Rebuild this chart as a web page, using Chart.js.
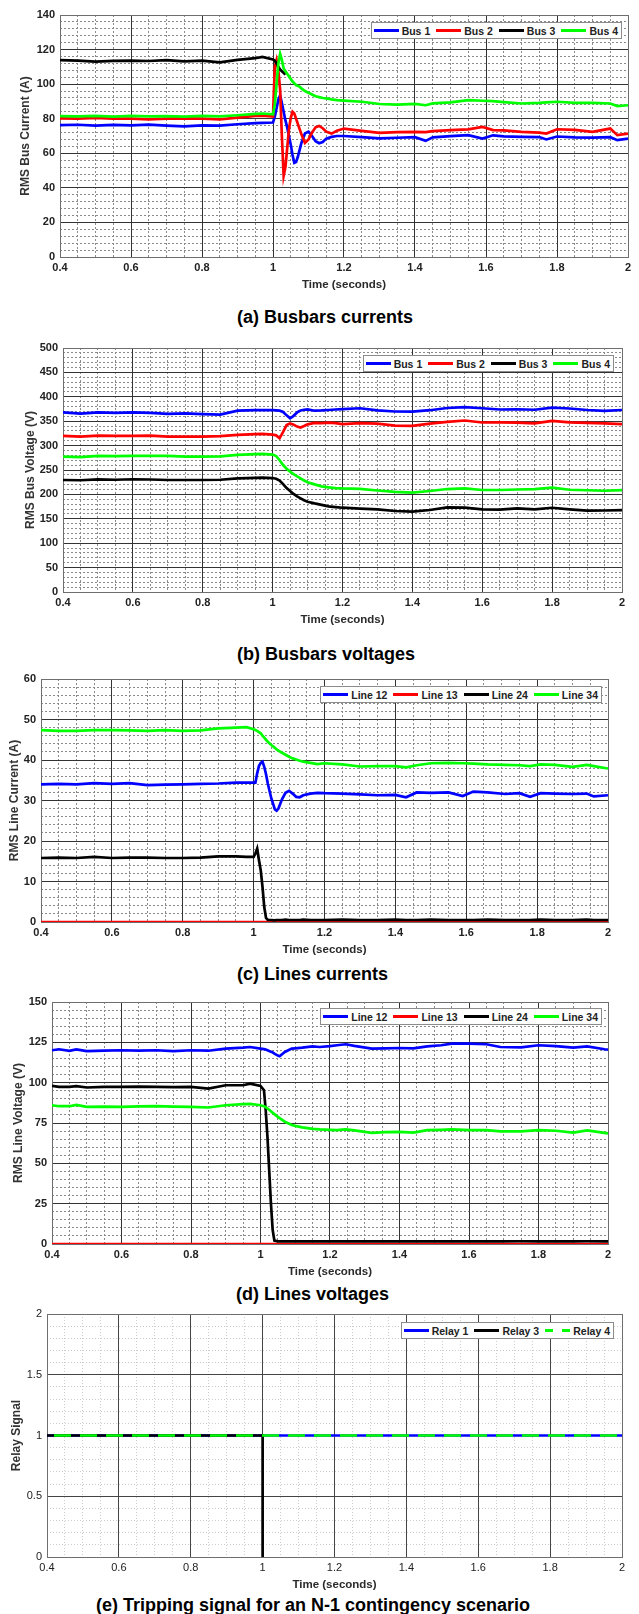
<!DOCTYPE html>
<html>
<head>
<meta charset="utf-8">
<title>N-1 contingency scenario</title>
<script src="https://cdn.jsdelivr.net/npm/chart.js@4.4.1/dist/chart.umd.min.js"></script>
<style>
  body { margin: 0; background: #fff; width: 639px; height: 1614px; position: relative; overflow: hidden; font-family: "Liberation Sans", Arial, sans-serif; }
  canvas { position: absolute; left: 0; }
  .cap { position: absolute; width: 520px; text-align: center; font-size: 18px; font-weight: bold; line-height: 20px; color: #000; white-space: nowrap; }
  .leg { position: absolute; z-index: 2; display: flex; align-items: center; height: 15px; padding: 0 3px 0 2px; background: #fff; border: 1px solid #8c8c8c; font-size: 10.5px; font-weight: bold; color: #222; white-space: nowrap; }
  .leg .it { display: flex; align-items: center; margin-right: 6px; }
  .leg .it:last-child { margin-right: 0; }
  .leg .ln { display: inline-block; width: 25px; height: 3px; margin-right: 3px; }
</style>
</head>
<body>
<script>
// (a) busbar currents, A
const tA = [
  0.40, 0.45, 0.50, 0.55, 0.60, 0.65, 0.70, 0.75, 0.80, 0.85,
  0.90, 0.95, 0.97, 1.00, 1.005, 1.01, 1.015, 1.02, 1.025, 1.03,
  1.035, 1.04, 1.045, 1.05, 1.055, 1.06, 1.065, 1.07, 1.075, 1.08,
  1.09, 1.10, 1.11, 1.12, 1.13, 1.14, 1.15, 1.165, 1.18, 1.20,
  1.25, 1.30, 1.35, 1.40, 1.43, 1.45, 1.50, 1.55, 1.59, 1.62,
  1.65, 1.70, 1.75, 1.77, 1.80, 1.85, 1.90, 1.95, 1.97, 2.00
];
const bus1A = [
  76.3, 76.5, 76.0, 76.4, 76.2, 76.6, 76.0, 75.6, 76.2, 76.0,
  76.8, 77.4, 77.6, 77.8, 81, 86, 91, 93.5, 89, 84,
  79, 75, 70, 65, 59, 54.5, 55, 58, 62, 66,
  71.5, 72.5, 70, 67, 65.8, 66.5, 68.5, 69.5, 70, 70,
  69.4, 68.6, 69, 69.3, 67.2, 69.2, 69.9, 70.5, 68.5, 70.4,
  69.8, 69.5, 69.4, 68.0, 69.7, 69.2, 69.1, 69.3, 67.6, 68.5
];
const bus2A = [
  80.2, 80.0, 80.4, 80.0, 80.1, 79.6, 80.0, 80.2, 80.0, 79.6,
  80.6, 81.6, 81.8, 81.2, 110, 114, 108, 97, 70, 47,
  52, 63, 74, 80.5, 84, 83, 80, 77, 74, 71,
  66, 68, 72, 75, 75.8, 74.5, 72.5, 71.4, 73, 74.3,
  73, 71.8, 72.2, 72.4, 72.2, 72.8, 73.4, 73.8, 75.3, 73.4,
  73.2, 72.4, 72.0, 71.4, 73.9, 73.5, 72.4, 74.3, 70.5, 71.4
];
// bus 3 is only visible until it disappears behind the fault at ~1.035 s
const bus3A = [
  113.9, 113.6, 113.0, 113.5, 113.6, 113.4, 113.9, 113.2, 113.6, 112.6,
  114.0, 115.0, 115.8, 114.3, 113.5, 112.0, 110.0, 108.5, 107.5, 106.5,
  105.5
];
const bus4A = [
  81.5, 81.4, 81.6, 81.2, 81.6, 81.4, 81.5, 81.2, 81.6, 81.3,
  82.0, 82.8, 83.0, 82.5, 88, 100, 112, 117.5, 114, 109,
  107.5, 106, 104.5, 103, 101.5, 100.5, 99.5, 99, 98.5, 97.5,
  96, 95, 94, 93, 92.5, 92, 91.8, 91.2, 90.8, 90.5,
  89.8, 88.5, 88.2, 88.6, 87.8, 88.9, 89.5, 90.7, 90.4, 90.2,
  89.6, 88.8, 89.2, 89.5, 89.8, 89.2, 89.2, 88.8, 87.3, 87.8
];

// (b) busbar voltages, V
const tB = [
  0.40, 0.45, 0.50, 0.55, 0.60, 0.65, 0.70, 0.75, 0.80, 0.85,
  0.90, 0.95, 0.97, 1.00, 1.01, 1.02, 1.03, 1.04, 1.05, 1.06,
  1.07, 1.08, 1.09, 1.10, 1.12, 1.14, 1.16, 1.18, 1.20, 1.25,
  1.30, 1.35, 1.40, 1.45, 1.50, 1.55, 1.60, 1.65, 1.70, 1.75,
  1.80, 1.85, 1.90, 1.95, 2.00
];
const bus1B = [
  368, 365.5, 368, 367, 368, 367, 365, 366, 364.5, 363.5,
  371.5, 372.5, 373, 372.5, 372, 371.5, 369, 362, 356, 361,
  368, 372, 373.5, 374.3, 371.5, 372, 373, 374, 374.7, 376.5,
  372, 369.9, 369.5, 372.5, 377, 378.8, 376.5, 374, 374.5, 373.5,
  378, 376, 373, 371.2, 373
];
const bus2B = [
  320, 318.5, 320.5, 320, 320, 320.5, 318.5, 318.5, 318.5, 319.5,
  322, 323.5, 324, 322.5, 321, 315, 328, 342, 345.6, 343,
  339, 337, 340, 343.6, 346.5, 346, 347, 346, 344, 346,
  345, 341, 340.5, 345, 348.5, 351.4, 347.3, 347.5, 347, 345.5,
  350.7, 347.5, 346.5, 345.5, 343.8
];
const bus3B = [
  229.5, 229, 230.8, 230, 231, 230.5, 229.5, 229.5, 229.5, 230,
  232.9, 234, 234.2, 233.5, 232, 228.5, 221, 213, 207, 201,
  196, 192, 188, 185, 181.5, 178.5, 175.5, 174, 172.7, 171,
  169.5, 166, 164.6, 168, 173.3, 173, 169.2, 169, 171.2, 169.5,
  172.6, 169.5, 166.8, 167, 167.8
];
const bus4B = [
  277.4, 276.5, 278.8, 278.5, 278.8, 279, 278.8, 277.5, 277.5, 278,
  280.8, 282.5, 282.9, 281.5, 278.5, 270, 260.2, 252.5, 246.6, 241.5,
  237, 232.9, 228.5, 225, 220.5, 216.5, 214.5, 213, 212.3, 211.5,
  208, 205, 203.8, 207, 211, 212.3, 209, 209, 210, 211,
  213.7, 209.5, 208.5, 207.5, 208.9
];

// (c) line currents, A
const tC = [
  0.40, 0.45, 0.50, 0.55, 0.60, 0.65, 0.70, 0.75, 0.80, 0.85,
  0.90, 0.95, 0.98, 1.00, 1.005, 1.01, 1.015, 1.02, 1.025, 1.03,
  1.035, 1.04, 1.05, 1.06, 1.065, 1.07, 1.08, 1.09, 1.10, 1.11,
  1.12, 1.13, 1.14, 1.16, 1.18, 1.20, 1.25, 1.30, 1.35, 1.40,
  1.43, 1.46, 1.50, 1.55, 1.59, 1.62, 1.66, 1.71, 1.75, 1.78,
  1.81, 1.85, 1.90, 1.94, 1.96, 2.00
];
const line12C = [
  34.0, 34.1, 34.0, 34.3, 34.1, 34.3, 33.8, 33.9, 34.0, 34.1,
  34.2, 34.4, 34.4, 34.4, 34.4, 36.7, 38.5, 39.3, 39.6, 38.3,
  36.5, 34.2, 30.5, 27.8, 27.5, 28.0, 30.3, 31.9, 32.4, 31.7,
  30.9, 30.8, 31.3, 31.7, 31.9, 31.8, 31.7, 31.5, 31.3, 31.4,
  30.8, 32.0, 31.9, 32.0, 31.1, 32.2, 32.0, 31.6, 31.8, 30.9,
  31.8, 31.7, 31.6, 31.7, 31.0, 31.3
];
const line24C = [
  15.8, 15.9, 15.8, 16.1, 15.8, 15.9, 15.9, 15.8, 15.8, 15.9,
  16.2, 16.2, 16.1, 16.1, 16.9, 18.1, 15.3, 12.8, 8.7, 3.7,
  1.0, 0.5, 0.5, 0.4, 0.5, 0.5, 0.5, 0.6, 0.5, 0.5,
  0.5, 0.5, 0.6, 0.5, 0.5, 0.5, 0.6, 0.5, 0.5, 0.6,
  0.5, 0.5, 0.6, 0.5, 0.5, 0.5, 0.6, 0.5, 0.5, 0.5,
  0.6, 0.5, 0.5, 0.6, 0.5, 0.5
];
const line34C = [
  47.4, 47.2, 47.2, 47.4, 47.4, 47.3, 47.2, 47.4, 47.2, 47.3,
  47.8, 48.0, 48.1, 47.6, 47.4, 47.2, 46.9, 46.6, 46.0, 45.5,
  45.0, 44.5, 43.7, 43.0, 42.6, 42.3, 41.8, 41.3, 40.8, 40.4,
  40.1, 39.8, 39.6, 39.3, 39.0, 39.2, 38.9, 38.4, 38.5, 38.5,
  38.2, 38.7, 39.2, 39.3, 39.2, 39.1, 38.9, 38.8, 38.7, 38.5,
  38.9, 38.8, 38.3, 38.8, 38.5, 37.9
];
// line 13 carries nothing for the whole run
const tFlat = [0.4, 2.0];
const line13C = [0, 0];

// (d) line voltages, V
const tD = [
  0.40, 0.42, 0.45, 0.47, 0.50, 0.55, 0.60, 0.65, 0.70, 0.75,
  0.80, 0.85, 0.90, 0.95, 0.97, 1.00, 1.01, 1.015, 1.02, 1.025,
  1.03, 1.035, 1.04, 1.05, 1.055, 1.07, 1.09, 1.10, 1.12, 1.15,
  1.17, 1.20, 1.22, 1.245, 1.27, 1.32, 1.36, 1.40, 1.44, 1.48,
  1.52, 1.55, 1.60, 1.65, 1.69, 1.75, 1.80, 1.85, 1.90, 1.94,
  1.99, 2.00
];
const line12D = [
  120.1, 120.7, 119.7, 120.6, 119.6, 119.8, 120.1, 119.9, 120.1, 119.5,
  120.1, 119.8, 121.1, 121.7, 122.1, 121.1, 120.8, 120.6, 120.1, 119.6,
  119.2, 118.8, 118.0, 116.8, 116.4, 119.0, 121.1, 121.3, 121.7, 122.5,
  122.1, 122.6, 123.2, 123.8, 122.8, 121.1, 121.3, 121.5, 121.3, 122.5,
  123.2, 124.2, 124.2, 123.8, 122.1, 121.9, 123.2, 122.6, 121.7, 122.5,
  120.7, 120.5
];
const line24D = [
  98.0, 97.4, 97.4, 97.8, 97.0, 97.4, 97.4, 97.6, 97.4, 97.2,
  97.4, 96.3, 98.4, 98.4, 99.4, 98.0, 95.3, 82.9, 66.4, 45.8,
  25.2, 8.7, 2.1, 1.6, 1.6, 1.6, 1.7, 1.6, 1.6, 1.6,
  1.7, 1.6, 1.6, 1.6, 1.7, 1.6, 1.6, 1.7, 1.6, 1.6,
  1.6, 1.7, 1.6, 1.6, 1.6, 1.7, 1.6, 1.6, 1.6, 1.7,
  1.6, 1.6
];
const line34D = [
  86.0, 85.4, 85.4, 86.2, 85.0, 85.2, 85.0, 85.3, 85.4, 85.2,
  85.0, 84.6, 86.0, 86.7, 86.9, 86.0, 85.4, 84.8, 84.0, 83.2,
  82.3, 81.4, 80.5, 78.8, 78.0, 75.8, 73.8, 73.2, 72.3, 71.4,
  71.0, 70.8, 70.6, 71.0, 70.4, 68.9, 69.3, 69.5, 69.0, 70.6,
  70.8, 71.0, 70.6, 70.6, 69.8, 69.8, 70.6, 70.2, 69.1, 70.4,
  68.9, 68.5
];
const line13D = [0, 0];

// (e) relay trip signals
const tRelay = [0.4, 2.0];
const relay1 = [1, 1];
const relay4 = [1, 1];
const tRelay3 = [0.4, 1.0, 1.0];
const relay3 = [1, 1, 0];

const BLUE = '#0000ff', RED = '#ff0000', BLACK = '#000000', GREEN = '#00ff00';
const FONT = "'Liberation Sans', Arial, sans-serif";
const PAGE_W = 639, PAD_TOP = 14, XAXIS_H = 35;

// area = [left, right, top, bottom] of the plot box on the page
const panels = [
  {
    area: [60, 628, 15, 257], y: [0, 140, 20, 4],
    yTitle: 'RMS Bus Current (A)', yTitleX: 25.5,
    leg: [17, 22], cap: ['(a) Busbars currents', 325, 307],
    series: [
      {label: 'Bus 1', t: tA, v: bus1A, color: BLUE},
      {label: 'Bus 2', t: tA, v: bus2A, color: RED},
      {label: 'Bus 3', t: tA, v: bus3A, color: BLACK},
      {label: 'Bus 4', t: tA, v: bus4A, color: GREEN}
    ]
  },
  {
    area: [63, 622, 348, 592], y: [0, 500, 50, 10],
    yTitle: 'RMS Bus Voltage (V)', yTitleX: 30.5,
    leg: [25, 355], cap: ['(b) Busbars voltages', 326, 644],
    series: [
      {label: 'Bus 1', t: tB, v: bus1B, color: BLUE},
      {label: 'Bus 2', t: tB, v: bus2B, color: RED},
      {label: 'Bus 3', t: tB, v: bus3B, color: BLACK},
      {label: 'Bus 4', t: tB, v: bus4B, color: GREEN}
    ]
  },
  {
    area: [41, 608, 679, 922], y: [0, 60, 10, 2],
    yTitle: 'RMS Line Current (A)', yTitleX: 14.2,
    leg: [37, 686], cap: ['(c) Lines currents', 312.5, 964],
    series: [
      {label: 'Line 12', t: tC, v: line12C, color: BLUE},
      {label: 'Line 13', t: tFlat, v: line13C, color: RED, clip: 0},
      {label: 'Line 24', t: tC, v: line24C, color: BLACK},
      {label: 'Line 34', t: tC, v: line34C, color: GREEN}
    ]
  },
  {
    area: [52, 608, 1002, 1244], y: [0, 150, 25, 5],
    yTitle: 'RMS Line Voltage (V)', yTitleX: 18.3,
    leg: [37, 1008], cap: ['(d) Lines voltages', 312.5, 1284],
    series: [
      {label: 'Line 12', t: tD, v: line12D, color: BLUE},
      {label: 'Line 13', t: tFlat, v: line13D, color: RED, clip: 0},
      {label: 'Line 24', t: tD, v: line24D, color: BLACK},
      {label: 'Line 34', t: tD, v: line34D, color: GREEN}
    ]
  },
  {
    area: [47, 622, 1314, 1557], y: [0, 2, 0.5, 0.1], light: true,
    yTitle: 'Relay Signal', yTitleX: 16.2,
    leg: [25, 1322], cap: ['(e) Tripping signal for an N-1 contingency scenario', 313, 1595],
    series: [
      {label: 'Relay 1', t: tRelay, v: relay1, color: BLUE},
      {label: 'Relay 3', t: tRelay3, v: relay3, color: BLACK},
      {label: 'Relay 4', t: tRelay, v: relay4, color: GREEN, dash: [17, 9], dashOffset: 19}
    ]
  }
];

function fmt(v) {
  return String(+v.toFixed(2));
}

// plot box drawn under the curves, like the MATLAB axes
const frame = {
  id: 'frame',
  beforeDatasetsDraw(chart) {
    const a = chart.chartArea, ctx = chart.ctx;
    ctx.save();
    ctx.strokeStyle = '#6e6e6e';
    ctx.lineWidth = 1;
    ctx.strokeRect(Math.round(a.left) + 0.5, Math.round(a.top) + 0.5, Math.round(a.width), Math.round(a.height));
    ctx.restore();
  }
};

function buildPanel(p) {
  const [L, R, T, B] = p.area;
  const [yMin, yMax, yMajor, yMinor] = p.y;
  const light = !!p.light;

  const canvas = document.createElement('canvas');
  canvas.width = PAGE_W;
  canvas.height = PAD_TOP + (B - T) + XAXIS_H;
  canvas.style.top = (T - PAD_TOP) + 'px';
  document.body.appendChild(canvas);

  const tickFont = {family: FONT, size: 11, weight: light ? 'normal' : 'bold'};
  const titleFont = {family: FONT, size: 12, weight: 'bold'};
  const minorGrid = {color: light ? '#cdcdcd' : '#8a8a8a', lineWidth: 1, drawTicks: false, z: -2};
  const minorBorder = {display: false, dash: light ? [1, 2] : [2, 2]};
  const majorGrid = {color: light ? '#454545' : '#333333', lineWidth: 1, drawTicks: false};
  const n = p.series.length;

  const chart = new Chart(canvas, {
    type: 'line',
    data: {
      datasets: p.series.map((s, i) => ({
        label: s.label,
        data: s.v.map((y, k) => ({x: s.t[k], y: y})),
        borderColor: s.color,
        borderWidth: 2.7,
        borderDash: s.dash || [],
        borderDashOffset: s.dashOffset || 0,
        pointRadius: 0,
        tension: 0,
        fill: false,
        clip: s.clip,
        order: n - i
      }))
    },
    options: {
      responsive: false,
      animation: false,
      events: [],
      layout: {padding: {left: 0, right: PAGE_W - R, top: PAD_TOP, bottom: 0}},
      plugins: {legend: {display: false}, tooltip: {enabled: false}},
      scales: {
        xm: {
          type: 'linear', position: 'bottom', min: 0.4, max: 2,
          ticks: {display: false, stepSize: 0.05},
          grid: minorGrid, border: minorBorder,
          afterFit: s => { s.height = 0; }
        },
        ym: {
          type: 'linear', position: 'left', min: yMin, max: yMax,
          ticks: {display: false, stepSize: yMinor},
          grid: minorGrid, border: minorBorder,
          afterFit: s => { s.width = 0; }
        },
        x: {
          type: 'linear', position: 'bottom', min: 0.4, max: 2,
          ticks: {stepSize: 0.2, padding: 4, color: '#222', font: tickFont, maxRotation: 0, autoSkip: false, callback: fmt},
          grid: majorGrid,
          border: {display: false},
          title: {display: true, text: 'Time (seconds)', color: '#2a2a2a', font: {family: FONT, size: 11.5, weight: 'bold'}, padding: {top: 0, bottom: 0}},
          afterFit: s => { s.height = XAXIS_H; }
        },
        y: {
          type: 'linear', position: 'left', min: yMin, max: yMax,
          ticks: {stepSize: yMajor, padding: 5, color: '#222', font: tickFont, autoSkip: false, callback: fmt},
          grid: majorGrid,
          border: {display: false},
          title: {display: true, text: p.yTitle, color: '#333', font: titleFont, padding: {top: p.yTitleX - 7.2, bottom: 0}},
          afterFit: s => { s.width = L; }
        }
      }
    },
    plugins: [frame]
  });

  // keep the plot box where it sits in the figure
  canvas.style.top = (T - chart.chartArea.top) + 'px';

  const box = document.createElement('div');
  box.className = 'leg';
  box.style.right = p.leg[0] + 'px';
  box.style.top = p.leg[1] + 'px';
  p.series.forEach(s => {
    const it = document.createElement('div');
    it.className = 'it';
    const ln = document.createElement('span');
    ln.className = 'ln';
    ln.style.background = s.dash
      ? 'repeating-linear-gradient(90deg, ' + s.color + ' 0 8px, transparent 8px 17px)'
      : s.color;
    const tx = document.createElement('span');
    tx.textContent = s.label;
    it.appendChild(ln);
    it.appendChild(tx);
    box.appendChild(it);
  });
  document.body.appendChild(box);

  const cap = document.createElement('div');
  cap.className = 'cap';
  cap.textContent = p.cap[0];
  cap.style.left = (p.cap[1] - 260) + 'px';
  cap.style.top = p.cap[2] + 'px';
  document.body.appendChild(cap);
}

panels.forEach(buildPanel);
</script>
</body>
</html>
